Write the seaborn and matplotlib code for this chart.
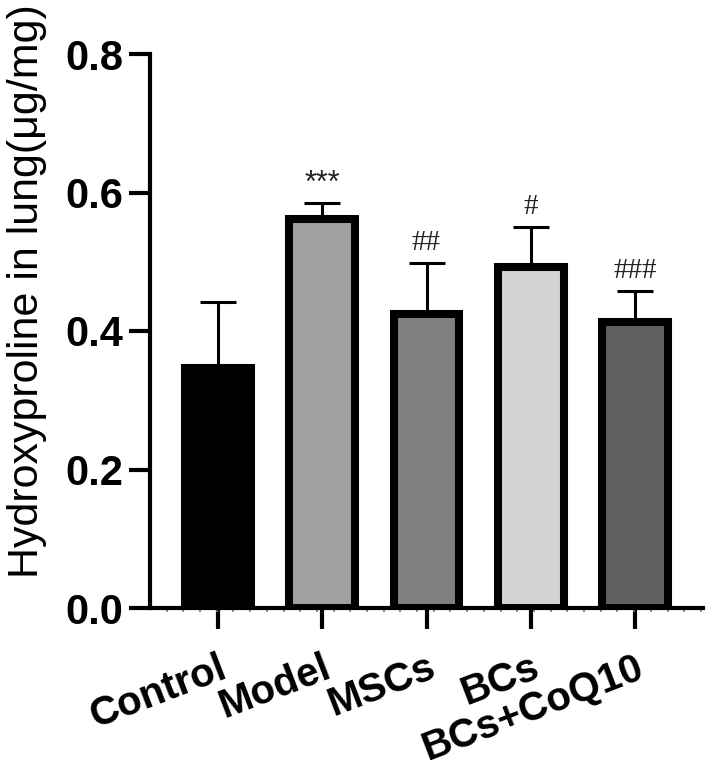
import matplotlib
matplotlib.use("Agg")
import matplotlib.pyplot as plt
import seaborn as sns
import numpy as np
from matplotlib.ticker import FixedLocator

categories = ["Control", "Model", "MSCs", "BCs", "BCs+CoQ10"]
means = [0.347, 0.562, 0.425, 0.492, 0.413]
errors = [0.095, 0.023, 0.073, 0.058, 0.045]
marks = ["", "***", "##", "#", "###"]
yticks = [0.0, 0.2, 0.4, 0.6, 0.8]
ytick_labels = ["0.0", "0.2", "0.4", "0.6", "0.8"]
colors = ["#000000", "#a0a0a0", "#808080", "#d3d3d3", "#606060"]

sns.set_style("white")
plt.rcParams["font.family"] = ["Liberation Sans", "DejaVu Sans"]
plt.rcParams["text.color"] = "black"
plt.rcParams["xtick.color"] = "black"
plt.rcParams["ytick.color"] = "black"

fig = plt.figure(figsize=(7.08, 7.68), dpi=100)
ax = fig.add_axes([150 / 708, 1 - 608 / 768, (703 - 150) / 708, (608 - 54) / 768])

sns.barplot(x=categories, y=means, hue=categories, palette=colors, legend=False,
            width=0.63, edgecolor="black", linewidth=5.8, errorbar=None, ax=ax,
            saturation=1)

xpos = np.arange(len(categories))
ax.errorbar(xpos, means, yerr=[np.zeros(len(means)), errors], fmt="none",
            ecolor="black", elinewidth=2.2, capsize=13, capthick=2.2, zorder=1)

for x, m, e, s in zip(xpos, means, errors, marks):
    if not s:
        continue
    if s.startswith("*"):
        ax.text(x, m + e + 0.006, s, ha="center", va="bottom", fontsize=22,
                color="#222222", family=["Liberation Sans"])
    else:
        ax.text(x, m + e + 0.010, s, ha="center", va="bottom", fontsize=21,
                color="#222222", family=["Liberation Serif"])

ax.set_xlim(-0.65, 4.65)
ax.set_ylim(0, 0.8)
ax.set_yticks(yticks)
ax.set_yticklabels(ytick_labels, fontsize=30, fontweight="bold", color="black")
ax.set_xticks(xpos)
ax.set_xticklabels(categories, fontsize=29, fontweight="bold", rotation=21,
                   ha="right", va="top", rotation_mode="anchor", color="black")

minor = np.arange(-0.65 + 0.16, 4.65, 0.16)
ax.xaxis.set_minor_locator(FixedLocator(minor))
ax.tick_params(axis="x", which="minor", length=3, width=1.2, color="#777777",
               direction="out", bottom=True)

sns.despine(ax=ax)
for sp in ["left", "bottom"]:
    ax.spines[sp].set_linewidth(3)
    ax.spines[sp].set_color("black")
ax.tick_params(axis="both", which="major", length=15, width=3, color="black",
               direction="out", left=True, bottom=True)
ax.tick_params(axis="y", pad=4)
ax.tick_params(axis="x", which="major", pad=14)
ax.set_ylabel("")
ax.set_xlabel("")

fig.text(27 / 708, 1 - 291 / 768, "Hydroxyproline in lung(μg/mg)", rotation=90,
         ha="center", va="center", fontsize=31, color="black")

fig.savefig("out.png", dpi=100)
